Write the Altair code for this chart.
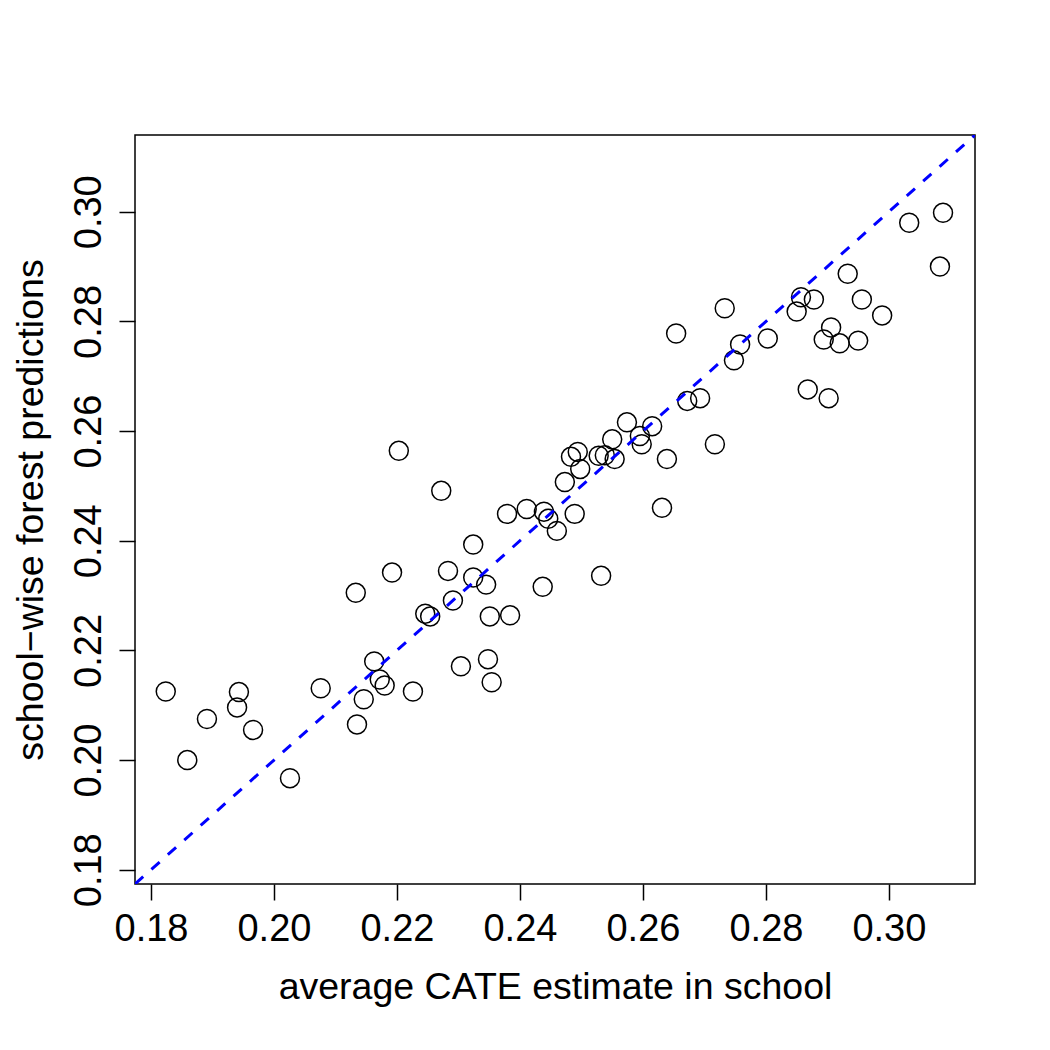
import altair as alt
import pandas as pd

# Average CATE estimate per school vs. school-wise forest predictions
cate_avg = [
    0.1824, 0.1859, 0.1891, 0.1940, 0.1943, 0.1966, 0.2026, 0.2076, 0.2135, 0.2146,
    0.2163, 0.2133, 0.2172, 0.2180, 0.2192, 0.2203, 0.2226, 0.2246, 0.2254, 0.2272,
    0.2283, 0.2291, 0.2304, 0.2324, 0.2324, 0.2345, 0.2348, 0.2351, 0.2354, 0.2379,
    0.2384, 0.2411, 0.2437, 0.2439, 0.2446, 0.2460, 0.2473, 0.2483, 0.2489, 0.2494,
    0.2498, 0.2532, 0.2528, 0.2538, 0.2550, 0.2554, 0.2574, 0.2595, 0.2598, 0.2615,
    0.2631, 0.2639, 0.2654, 0.2672, 0.2693, 0.2717, 0.2733, 0.2748, 0.2758, 0.2803,
    0.2850, 0.2857, 0.2868, 0.2878, 0.2894, 0.2906, 0.2902, 0.2920, 0.2933, 0.2956,
    0.2950, 0.2989, 0.3033, 0.3083, 0.3088,
]
forest_pred = [
    0.2125, 0.2000, 0.2075, 0.2096, 0.2124, 0.2055, 0.1967, 0.2131, 0.2065, 0.2111,
    0.2180, 0.2305, 0.2147, 0.2136, 0.2342, 0.2564, 0.2125, 0.2267, 0.2262, 0.2491,
    0.2345, 0.2291, 0.2171, 0.2393, 0.2333, 0.2320, 0.2184, 0.2262, 0.2142, 0.2449,
    0.2264, 0.2458, 0.2316, 0.2453, 0.2440, 0.2418, 0.2507, 0.2553, 0.2449, 0.2562,
    0.2531, 0.2336, 0.2555, 0.2556, 0.2585, 0.2549, 0.2616, 0.2591, 0.2576, 0.2609,
    0.2460, 0.2549, 0.2778, 0.2655, 0.2660, 0.2576, 0.2824, 0.2729, 0.2758, 0.2769,
    0.2818, 0.2844, 0.2676, 0.2840, 0.2767, 0.2789, 0.2660, 0.2760, 0.2887, 0.2840,
    0.2765, 0.2811, 0.2980, 0.2900, 0.2998,
]
tick_values = [0.18, 0.20, 0.22, 0.24, 0.26, 0.28, 0.30]
axis_range = [0.1774, 0.3140]

points = pd.DataFrame({"cate": cate_avg, "pred": forest_pred})
diagonal = pd.DataFrame({"cate": axis_range, "pred": axis_range})

TITLE_FONT = "Liberation Sans, Arial, Helvetica, sans-serif"
LABEL_FONT = "Liberation Sans Narrow, Arial Narrow, Liberation Sans, sans-serif"

x_scale = alt.Scale(domain=axis_range, nice=False, zero=False)
y_scale = alt.Scale(domain=axis_range, nice=False, zero=False)

x_axis = alt.Axis(
    title="average CATE estimate in school",
    values=tick_values,
    format=".2f",
    grid=False,
    domain=False,
    ticks=True,
    tickSize=16,
    tickWidth=1.5,
    tickColor="black",
    labelFont=LABEL_FONT,
    labelFontSize=38,
    labelColor="black",
    labelBaseline="alphabetic",
    labelPadding=40,
    labelFlush=False,
    labelOverlap=False,
    titleFont=TITLE_FONT,
    titleFontSize=37.5,
    titleFontWeight="normal",
    titleColor="black",
    titleBaseline="alphabetic",
    titleY=114,
)
y_axis = alt.Axis(
    title="school\u2212wise forest predictions",
    values=tick_values,
    format=".2f",
    grid=False,
    domain=False,
    ticks=True,
    tickSize=16,
    tickWidth=1.5,
    tickColor="black",
    labelFont=LABEL_FONT,
    labelFontSize=38,
    labelColor="black",
    labelAngle=270,
    labelAlign="center",
    labelBaseline="alphabetic",
    labelPadding=19,
    labelFlush=False,
    labelOverlap=False,
    titleFont=TITLE_FONT,
    titleFontSize=37.5,
    titleFontWeight="normal",
    titleColor="black",
    titleAngle=270,
    titleAlign="center",
    titleBaseline="alphabetic",
    titleX=-93,
)

scatter = alt.Chart(points).mark_point(
    shape="circle", filled=False, size=360, stroke="black", strokeWidth=1.5, opacity=1
).encode(
    x=alt.X("cate:Q", scale=x_scale, axis=x_axis),
    y=alt.Y("pred:Q", scale=y_scale, axis=y_axis),
)

identity_line = alt.Chart(diagonal).mark_line(
    color="#0000FF", strokeWidth=3, strokeDash=[11, 11], clip=True
).encode(
    x=alt.X("cate:Q", scale=x_scale),
    y=alt.Y("pred:Q", scale=y_scale),
)

chart = (
    alt.layer(scatter, identity_line)
    .properties(
        width=840,
        height=749,
        autosize=alt.AutoSizeParams(type="none"),
        padding={"left": 135, "top": 135, "right": 75, "bottom": 166},
        background="white",
    )
    .configure_view(stroke="black", strokeWidth=1.5, fill="white")
)

chart.save("out.html", embed_options={"renderer": "svg", "actions": False})
